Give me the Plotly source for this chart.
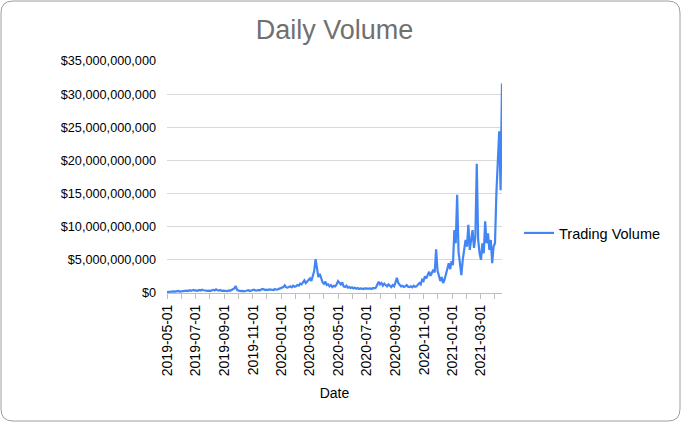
import pandas as pd
import plotly.graph_objects as go

# one value every 3 days, 2019-05-01 .. 2021-04-17, in billions of dollars
dates = pd.date_range("2019-05-01", "2021-04-17", freq="3D")

vol_2019 = [
    0.15, 0.18, 0.2, 0.17, 0.22, 0.25, 0.2, 0.24, 0.3, 0.22, 0.26,   # May
    0.25, 0.3, 0.28, 0.35, 0.3, 0.42, 0.33, 0.38, 0.45, 0.35,        # Jun
    0.4, 0.32, 0.45, 0.38, 0.5, 0.42, 0.35, 0.4, 0.33, 0.36,         # Jul
    0.3, 0.4, 0.48, 0.38, 0.55, 0.42, 0.36, 0.45, 0.32, 0.35,        # Aug
    0.3, 0.35, 0.28, 0.4, 0.33, 0.45, 0.55, 0.7, 1.05, 0.5,          # Sep
    0.35, 0.3, 0.28, 0.32, 0.25, 0.3, 0.35, 0.42, 0.3, 0.38, 0.45,   # Oct
    0.5, 0.4, 0.35, 0.45, 0.38, 0.5, 0.62, 0.55, 0.45, 0.5,          # Nov
    0.45, 0.55, 0.5, 0.4, 0.45, 0.6, 0.5, 0.55, 0.65, 0.7,           # Dec
]
vol_2020 = [
    0.75, 0.9, 1.15, 0.85, 0.8, 0.95, 1.0, 0.85, 1.1, 0.95,          # Jan
    1.0, 1.2, 1.1, 1.4, 1.3, 1.6, 1.9, 1.5, 1.7, 2.0,                # Feb
    2.2, 1.8, 2.6, 3.3, 5.1, 3.6, 2.4, 2.9, 2.1, 1.6,                # Mar
    1.4, 1.7, 1.2, 1.3, 1.0, 1.2, 0.9, 1.1, 1.0, 1.3,                # Apr
    1.8, 1.5, 1.3, 1.6, 1.0, 0.9, 1.1, 0.8, 0.9, 0.75, 0.85,         # May
    0.7, 0.8, 0.65, 0.75, 0.6, 0.7, 0.65, 0.6, 0.7, 0.65,            # Jun
    0.6, 0.65, 0.7, 0.6, 0.75, 0.7, 0.8, 1.2, 1.7, 1.3,              # Jul
    1.5, 1.1, 1.4, 1.2, 1.0, 1.3, 1.1, 0.9, 1.2, 1.0,                # Aug
    1.6, 2.3, 1.5, 1.2, 1.0, 1.1, 0.9, 1.0, 1.2, 0.95,               # Sep
    0.9, 1.0, 0.85, 1.1, 0.95, 1.0, 1.2, 1.5, 1.3, 2.0, 1.8,         # Oct
    2.5, 2.2, 2.8, 3.2, 2.6, 3.0, 3.5, 3.1, 6.6, 3.4,                # Nov
    2.6, 1.8, 2.4, 1.5, 2.0, 2.8, 3.8, 4.5, 3.6, 4.8,                # Dec
]
vol_2021 = [
    4.2, 9.5, 7.5, 14.8, 6.2, 4.5, 2.7, 5.0, 6.5, 8.0,               # Jan
    7.0, 10.3, 6.5, 8.5, 9.5, 6.8, 8.5, 19.5, 8.0, 6.0,              # Feb
    5.0, 7.5, 6.0, 10.8, 7.5, 9.0, 6.5, 8.0, 4.5, 7.0,               # Mar
    7.5, 15.1, 21.2, 24.4, 15.5, 31.6,                               # Apr
]

volume = [v * 1e9 for v in vol_2019 + vol_2020 + vol_2021]

W, H = 681, 422
L, R, T, B = 167, 179, 61, 129
pw, ph = W - L - R, H - T - B


def px(x):
    return (x - L) / pw


def py(y):
    return (H - B - y) / ph


# rounded chart border, drawn in paper units
x0, x1, y0, y1 = px(1), px(W - 1), py(1), py(H - 1)
rx, ry = 12 / pw, 12 / ph
border = (
    f"M {x0 + rx},{y0} L {x1 - rx},{y0} Q {x1},{y0} {x1},{y0 - ry} "
    f"L {x1},{y1 + ry} Q {x1},{y1} {x1 - rx},{y1} "
    f"L {x0 + rx},{y1} Q {x0},{y1} {x0},{y1 + ry} "
    f"L {x0},{y0 - ry} Q {x0},{y0} {x0 + rx},{y0} Z"
)

fig = go.Figure()
fig.add_trace(go.Scatter(
    x=dates, y=volume, mode="lines", name="Trading Volume",
    line=dict(color="#4285F4", width=2.2),
    showlegend=True,
))

fig.update_layout(
    width=W, height=H,
    margin=dict(l=L, r=R, t=T, b=B),
    paper_bgcolor="white", plot_bgcolor="white",
    font=dict(family="Liberation Sans, Arial", size=12, color="black"),
    title=dict(text="Daily Volume", x=0.5, xref="paper", xanchor="center",
               y=1 - 30 / H, yanchor="middle",
               font=dict(size=27, color="#707070")),
    legend=dict(x=px(519), y=py(233), xanchor="left", yanchor="middle",
                font=dict(size=14.5), bgcolor="rgba(0,0,0,0)"),
    shapes=[dict(type="path", path=border, xref="paper", yref="paper",
                 line=dict(color="#9e9e9e", width=1))],
)

fig.update_xaxes(
    type="date", range=["2019-05-01", "2021-04-17"],
    tick0="2019-05-01", dtick="M2", tickformat="%Y-%m-%d", tickangle=-90,
    tickfont=dict(size=14),
    ticks="outside", ticklen=5, tickcolor="#bfbfbf",
    minor=dict(dtick="M1", ticks="outside", ticklen=5, tickcolor="#bfbfbf"),
    showline=True, linecolor="#bfbfbf", linewidth=1,
    showgrid=False, zeroline=False,
    title=dict(text="Date", font=dict(size=14), standoff=12),
)
fig.update_yaxes(
    range=[0, 35e9], dtick=5e9, tickformat="$,.0f",
    tickfont=dict(size=12.7),
    showgrid=True, gridcolor="#d9d9d9", zeroline=False, showline=False,
    ticks="", ticklabelstandoff=10,
)

# drop the page's default body margin so the chart sits at the window corner
fig.write_html("out.html", config={"displayModeBar": False},
               post_script="document.body.style.margin = '0';")
